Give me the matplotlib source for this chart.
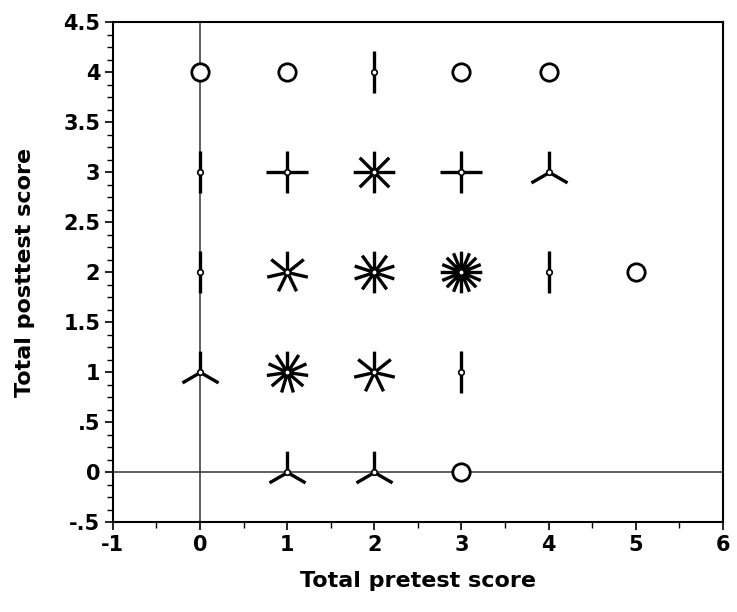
import numpy as np
import matplotlib
matplotlib.use("Agg")
import matplotlib.pyplot as plt
from matplotlib.path import Path
from matplotlib.ticker import MultipleLocator

# Data: sunflower plot (pretest, posttest, count of observations)
pretest = [0, 1, 2, 3, 4,
           0, 1, 2, 3, 4,
           0, 1, 2, 3, 4, 5,
           0, 1, 2, 3,
           1, 2, 3]
posttest = [4, 4, 4, 4, 4,
            3, 3, 3, 3, 3,
            2, 2, 2, 2, 2, 2,
            1, 1, 1, 1,
            0, 0, 0]
counts = [1, 1, 2, 1, 1,
          2, 4, 8, 4, 3,
          2, 7, 10, 16, 2, 1,
          3, 11, 7, 2,
          3, 3, 1]

xticks = [-1, 0, 1, 2, 3, 4, 5, 6]
yticks = [-0.5, 0, 0.5, 1, 1.5, 2, 2.5, 3, 3.5, 4, 4.5]
yticklabels = ["-.5", "0", ".5", "1", "1.5", "2", "2.5", "3", "3.5", "4", "4.5"]

plt.rcParams['font.family'] = ['DejaVu Sans']
fig = plt.figure(figsize=(7.37, 6.12), dpi=100)
ax = fig.add_axes([0.153, 0.147, 0.828, 0.817])

ax.set_xlim(-1, 6)
ax.set_ylim(-0.5, 4.5)

# reference lines
ax.axvline(0, color='#333333', lw=1.1, zorder=1)
ax.axhline(0, color='#333333', lw=1.1, zorder=1)


def petal_path(n):
    verts, codes = [], []
    for k in range(n):
        a = np.pi / 2 + 2 * np.pi * k / n
        verts += [(0, 0), (np.cos(a), np.sin(a))]
        codes += [Path.MOVETO, Path.LINETO]
    return Path(verts, codes)


for x, y, c in zip(pretest, posttest, counts):
    if c == 1:
        ax.plot([x], [y], marker='o', ms=12.5, mfc='white', mec='black',
                mew=2.0, ls='none', zorder=3)
    else:
        ax.plot([x], [y], marker=petal_path(c), ms=30, mfc='none', mec='black',
                mew=2.4, ls='none', zorder=3)
        ax.plot([x], [y], marker='o', ms=4, mfc='white', mec='black',
                mew=1.2, ls='none', zorder=4)

ax.set_xticks(xticks)
ax.set_xticklabels([str(t) for t in xticks])
ax.set_yticks(yticks)
ax.set_yticklabels(yticklabels)
ax.xaxis.set_minor_locator(MultipleLocator(0.5))
ax.yaxis.set_minor_locator(MultipleLocator(0.125))

ax.tick_params(axis='both', which='major', direction='out', length=6,
               width=1.2, labelsize=15, pad=3)
ax.tick_params(axis='both', which='minor', direction='out', length=4,
               width=1.0)
for lab in ax.get_xticklabels() + ax.get_yticklabels():
    lab.set_fontweight('bold')

for s in ax.spines.values():
    s.set_linewidth(1.5)

ax.set_xlabel('Total pretest score', fontsize=16, fontweight='bold', labelpad=12)
ax.set_ylabel('Total posttest score', fontsize=16, fontweight='bold', labelpad=20)

fig.savefig('out.png', dpi=100)
